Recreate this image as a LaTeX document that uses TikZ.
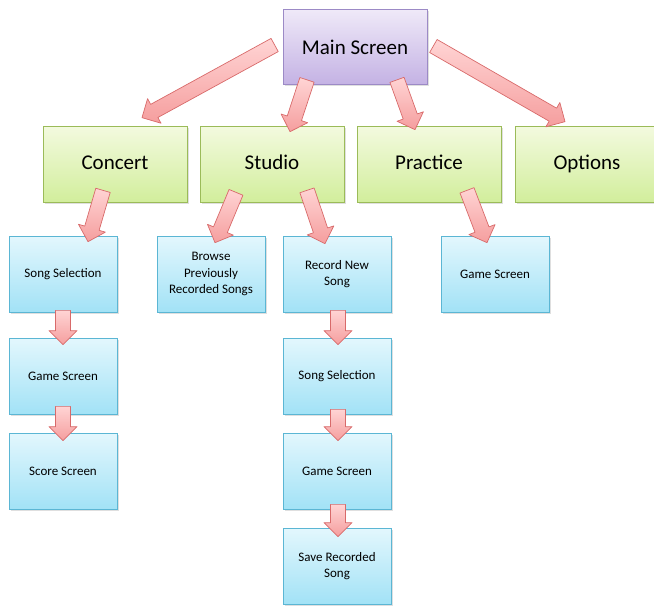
\documentclass[tikz,border=0pt]{standalone}
\usepackage{fontspec}
\setmainfont{Carlito}
\usetikzlibrary{calc,shadows}
\definecolor{mainline}{HTML}{9C8AC6}
\definecolor{maintop}{HTML}{EFE9F8}
\definecolor{mainbot}{HTML}{C4B2E4}
\definecolor{menuline}{HTML}{9BBB59}
\definecolor{menutop}{HTML}{F3FADF}
\definecolor{menubot}{HTML}{D2EE9C}
\definecolor{scrline}{HTML}{5BB6D4}
\definecolor{scrtop}{HTML}{E3F7FD}
\definecolor{scrbot}{HTML}{A2E2F6}
\definecolor{arrline}{HTML}{D86A6A}
\definecolor{arrtop}{HTML}{FFD4D4}
\definecolor{arrbot}{HTML}{F59E9E}
\tikzset{
	box/.style={rectangle, align=center, line width=0.7pt,
		drop shadow={shadow xshift=1.5pt, shadow yshift=-1.5pt, opacity=0.25}},
	mainbox/.style={box, draw=mainline, top color=maintop, bottom color=mainbot,
		minimum width=144pt, minimum height=75pt, font=\fontsize{21}{24}\selectfont},
	menubox/.style={box, draw=menuline, top color=menutop, bottom color=menubot,
		minimum width=144pt, minimum height=76pt, text height=14pt, text depth=4pt,
		font=\fontsize{21}{24}\selectfont},
	scrbox/.style={box, draw=scrline, top color=scrtop, bottom color=scrbot,
		minimum width=108pt, minimum height=76pt, font=\fontsize{13}{16.5}\selectfont},
	fat/.style={draw=arrline, top color=arrtop, bottom color=arrbot, line width=0.7pt, line join=round}
}
\newcommand\fatarrow[2]{%
	\coordinate (fa-s) at #1;
	\coordinate (fa-t) at #2;
	\coordinate (fa-n) at ($(fa-t)!14pt!(fa-s)$);
	\draw[fat] ($(fa-s)!7.5pt!90:(fa-t)$) -- ($(fa-n)!7.5pt!90:(fa-t)$) -- ($(fa-n)!14pt!90:(fa-t)$)
		-- (fa-t) -- ($(fa-n)!14pt!-90:(fa-t)$) -- ($(fa-n)!7.5pt!-90:(fa-t)$) -- ($(fa-s)!7.5pt!-90:(fa-t)$) -- cycle;}
\begin{document}
\begin{tikzpicture}[x=1pt,y=1pt]
	\useasboundingbox (0,0) rectangle (654,-606);
	\clip (0,0) rectangle (654,-606);
	\node[mainbox] (main) at (355,-47) {Main Screen};
	\node[menubox] (concert) at (115,-164) {Concert};
	\node[menubox] (studio) at (272,-164) {Studio};
	\node[menubox] (practice) at (429,-164) {Practice};
	\node[menubox] (options) at (587,-164) {Options};
	\node[scrbox] (songsel) at (63,-274) {Song Selection};
	\node[scrbox] (browse) at (211,-274) {Browse\\Previously\\Recorded Songs};
	\node[scrbox] (record) at (337,-274) {Record New\\Song};
	\node[scrbox] (pgame) at (495,-274) {Game Screen};
	\node[scrbox] (cgame) at (63,-376) {Game Screen};
	\node[scrbox] (score) at (63,-471) {Score Screen};
	\node[scrbox] (sgsel) at (337,-376) {Song Selection};
	\node[scrbox] (sgame) at (337,-471) {Game Screen};
	\node[scrbox] (save) at (337,-566) {Save Recorded\\Song};
	\fatarrow{($(main.west)+(-8,2)$)}{($(concert.north)+(27,8)$)}
	\fatarrow{($(main.south)+(-48,5)$)}{($(studio.north)+(18,-6)$)}
	\fatarrow{($(main.south)+(42,5)$)}{($(practice.north)+(-14,-4)$)}
	\fatarrow{($(main.east)+(6,1)$)}{($(options.north)+(-22,4)$)}
	\fatarrow{($(concert.south)+(-12,12)$)}{($(songsel.north)+(25,-6)$)}
	\fatarrow{($(studio.south)+(-36,10)$)}{($(browse.north)+(4,-7)$)}
	\fatarrow{($(studio.south)+(35,12)$)}{($(record.north)+(-12,-8)$)}
	\fatarrow{($(practice.south)+(38,12)$)}{($(pgame.north)+(-8,-7)$)}
	\fatarrow{($(songsel.south)+(0,2)$)}{($(cgame.north)+(0,-7)$)}
	\fatarrow{($(cgame.south)+(0,8)$)}{($(score.north)+(0,-8)$)}
	\fatarrow{($(record.south)+(1,2)$)}{($(sgsel.north)+(1,-7)$)}
	\fatarrow{($(sgsel.south)+(1,5)$)}{($(sgame.north)+(1,-8)$)}
	\fatarrow{($(sgame.south)+(1,5)$)}{($(save.north)+(1,-9)$)}
\end{tikzpicture}
\end{document}
